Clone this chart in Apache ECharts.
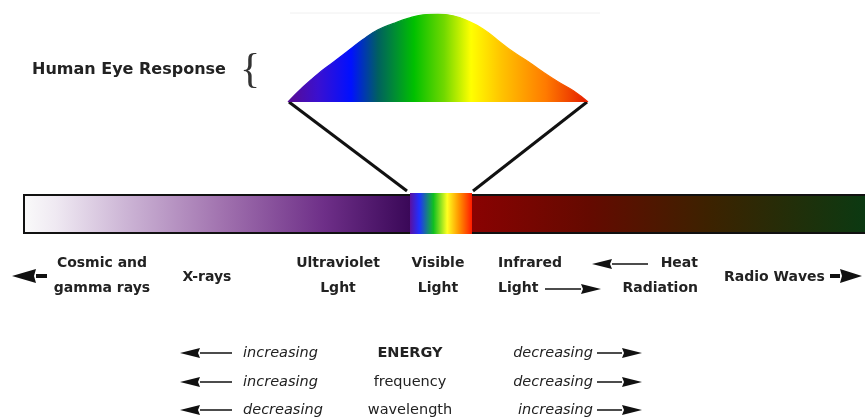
<!DOCTYPE html>
<html><head><meta charset="utf-8">
<script src="https://cdn.jsdelivr.net/npm/echarts@6/dist/echarts.min.js"></script>
<style>html,body{margin:0;padding:0;background:#fff}#c{width:865px;height:418px}</style>
</head><body><div id="c"></div>
<script>
// ---- data ----
const wavelengths = [380, 400, 420, 440, 460, 480, 500, 520, 540, 560, 580, 600, 620, 640, 660, 680, 700, 720, 740, 760, 780];
const eyeResponse = [0, 0.17, 0.32, 0.45, 0.58, 0.71, 0.82, 0.89, 0.95, 0.99, 1.0, 0.98, 0.92, 0.83, 0.70, 0.57, 0.46, 0.34, 0.23, 0.13, 0];
const titleText = 'Human Eye Response';
const bandLabels = ['Cosmic and\ngamma rays', 'X-rays', 'Ultraviolet\nLght', 'Visible\nLight', 'Infrared\nLight', 'Heat\nRadiation', 'Radio Waves'];
const propertyNames = ['ENERGY', 'frequency', 'wavelength'];
const leftTrend = ['increasing', 'increasing', 'decreasing'];
const rightTrend = ['decreasing', 'decreasing', 'increasing'];

const chart = echarts.init(document.getElementById('c'), null, {renderer: 'canvas'});
const INK = '#222';
const F = '"DejaVu Sans", sans-serif';

function spectrum() {
  return new echarts.graphic.LinearGradient(0, 0, 1, 0, [
    {offset: 0, color: '#5a0c90'},
    {offset: 0.1, color: '#3a10d0'},
    {offset: 0.21, color: '#0010ff'},
    {offset: 0.3, color: '#006060'},
    {offset: 0.42, color: '#00c000'},
    {offset: 0.52, color: '#70d800'},
    {offset: 0.61, color: '#ffff00'},
    {offset: 0.71, color: '#ffc400'},
    {offset: 0.86, color: '#ff7a00'},
    {offset: 1, color: '#e41a00'}
  ]);
}

chart.setOption({
  animation: false,
  backgroundColor: '#fff',
  grid: {left: 288, top: 14, width: 300, height: 88},
  xAxis: {type: 'value', min: 380, max: 780, show: false},
  yAxis: {type: 'value', min: 0, max: 1, show: false},
  series: [{
    type: 'line', smooth: 0.5, symbol: 'none',
    data: wavelengths.map((w, i) => [w, eyeResponse[i]]),
    lineStyle: {width: 1.2, color: spectrum()},
    areaStyle: {opacity: 1, color: spectrum()}
  }]
});

const pL = chart.convertToPixel({gridIndex: 0}, [wavelengths[0], 0]);
const pR = chart.convertToPixel({gridIndex: 0}, [wavelengths[wavelengths.length - 1], 0]);

function txt(text, x, y, align, font, extra) {
  return {type: 'text', silent: true, style: Object.assign({
    text: text, x: x, y: y, textAlign: align, textVerticalAlign: 'middle',
    font: font, fill: INK, lineHeight: 25
  }, extra || {})};
}
function arrow(x1, x2, y, head, half, shaftW) {
  const dir = x2 > x1 ? 1 : -1;
  const hb = x2 - dir * head;
  return [
    {type: 'line', silent: true, shape: {x1: x1, y1: y, x2: hb, y2: y}, style: {stroke: '#111', lineWidth: shaftW}},
    {type: 'polygon', silent: true, shape: {points: [[x2, y], [hb, y - half], [hb + dir * 2, y], [hb, y + half]]}, style: {fill: '#111'}}
  ];
}

const els = [];
els.push({type: 'line', silent: true, shape: {x1: 290, y1: 13, x2: 600, y2: 13}, style: {stroke: '#f0f0f0', lineWidth: 1}});
els.push({type: 'line', silent: true, shape: {x1: pL[0] + 1, y1: pL[1], x2: 407, y2: 191}, style: {stroke: '#111', lineWidth: 3}});
els.push({type: 'line', silent: true, shape: {x1: pR[0] - 1, y1: pR[1], x2: 473, y2: 191}, style: {stroke: '#111', lineWidth: 3}});
els.push({type: 'rect', silent: true, shape: {x: 24, y: 195, width: 400, height: 38}, style: {
  fill: new echarts.graphic.LinearGradient(0, 0, 1, 0, [
    {offset: 0, color: '#fafafa'}, {offset: 0.08, color: '#efe9f2'}, {offset: 0.25, color: '#cdb6d6'},
    {offset: 0.5, color: '#a071ae'}, {offset: 0.75, color: '#6e2f88'}, {offset: 0.965, color: '#3a0858'}, {offset: 1, color: '#3a0858'}])}});
els.push({type: 'rect', silent: true, shape: {x: 470, y: 195, width: 400, height: 38}, style: {
  fill: new echarts.graphic.LinearGradient(0, 0, 1, 0, [
    {offset: 0, color: '#8a0202'}, {offset: 0.3, color: '#640a00'}, {offset: 0.6, color: '#3c2200'}, {offset: 1, color: '#0a3a12'}])}});
els.push({type: 'rect', silent: true, shape: {x: 24, y: 195, width: 860, height: 38}, style: {fill: null, stroke: '#111', lineWidth: 2}});
els.push({type: 'rect', silent: true, shape: {x: 410, y: 193, width: 62, height: 41}, style: {
  fill: new echarts.graphic.LinearGradient(0, 0, 1, 0, [
    {offset: 0, color: '#5a10a0'}, {offset: 0.15, color: '#2030ff'}, {offset: 0.38, color: '#10c020'},
    {offset: 0.6, color: '#ffff20'}, {offset: 0.78, color: '#ff9a00'}, {offset: 1, color: '#ff1a00'}])}});

els.push(txt(titleText, 32, 70, 'left', 'bold 16px ' + F));
els.push(txt('{', 250, 71, 'center', '42px "Liberation Serif", serif', {fill: '#333'}));

const bf = 'bold 14px ' + F;
els.push(txt(bandLabels[0], 102, 276, 'center', bf));
els.push(txt(bandLabels[1], 207, 277, 'center', bf));
els.push(txt(bandLabels[2], 338, 276, 'center', bf));
els.push(txt(bandLabels[3], 438, 276, 'center', bf));
els.push(txt(bandLabels[4], 498, 276, 'left', bf));
els.push(txt(bandLabels[5], 698, 276, 'right', bf));
els.push(txt(bandLabels[6], 724, 277, 'left', bf));
els.push.apply(els, arrow(47, 12, 276, 24, 7, 4));
els.push.apply(els, arrow(830, 862, 276, 22, 7, 4));
els.push.apply(els, arrow(648, 592, 264, 20, 5, 1.5));
els.push.apply(els, arrow(545, 601, 289, 20, 5, 1.5));

const rowY = [353, 382, 410];
const rf = '14.5px ' + F;
for (let i = 0; i < 3; i++) {
  const y = rowY[i];
  els.push.apply(els, arrow(232, 180, y, 20, 5, 1.5));
  els.push(txt(leftTrend[i], 243, y, 'left', 'italic ' + rf));
  els.push(txt(propertyNames[i], 410, y, 'center', (i === 0 ? 'bold ' : '') + rf));
  els.push(txt(rightTrend[i], 593, y, 'right', 'italic ' + rf));
  els.push.apply(els, arrow(597, 642, y, 20, 5, 1.5));
}

chart.setOption({graphic: {elements: els}});
</script>
</body></html>
